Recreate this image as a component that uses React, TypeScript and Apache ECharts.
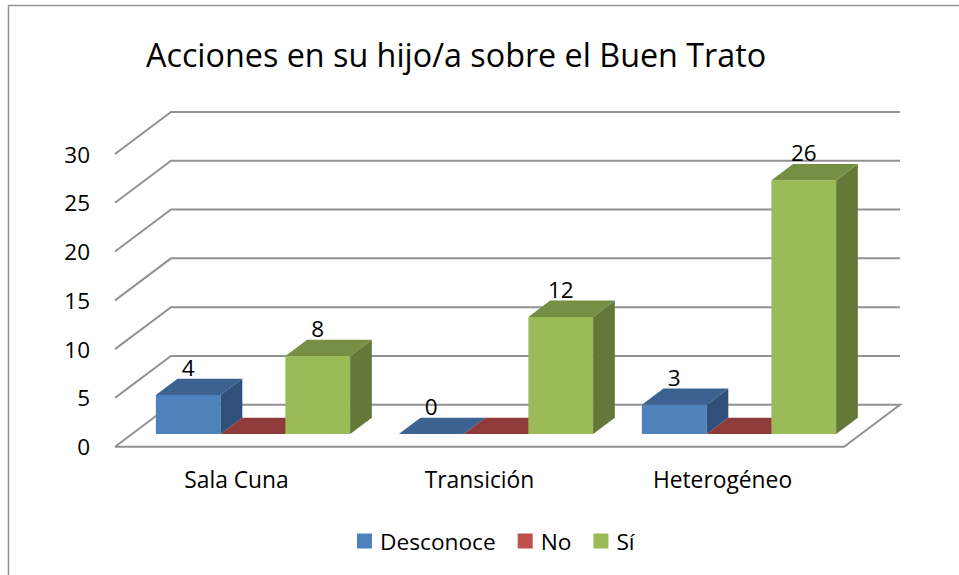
import React, { useEffect, useRef } from "react";
import * as echarts from "echarts";

const categories = ["Sala Cuna", "Transición", "Heterogéneo"];
const desconoce = [4, 0, 3];
const no = [0, 0, 0];
const si = [8, 12, 26];
const yTicks = [0, 5, 10, 15, 20, 25, 30];
const titleText = "Acciones en su hijo/a sobre el Buen Trato";

const FONT = "'Open Sans'";
const DEPTH_X = 56;
const DEPTH_Y = 42;
const BAR_DX = 21.7;
const BAR_DY = 16.3;
const LINE = "#929292";

function makeBarSeries(
  name: string,
  values: number[],
  slot: number,
  colors: { front: string; top: string; side: string },
  showLabel: boolean
) {
  return {
    type: "custom",
    name,
    coordinateSystem: "cartesian2d",
    itemStyle: { color: colors.front },
    encode: { x: 0, y: 1 },
    data: values.map((v, i) => [i, v]),
    renderItem: (_p: any, api: any) => {
      const idx = api.value(0);
      const val = api.value(1);
      const top = api.coord([idx, val]);
      const zero = api.coord([idx, 0]);
      const band = api.size([1, 0])[0];
      const w = band * 0.2665;
      const x0 = top[0] + 16.5 + (slot - 1.5) * w;
      const x1 = x0 + w;
      const yBase = zero[1] - 12.7;
      const yTop = yBase - (zero[1] - top[1]);
      const poly = (pts: number[][], fill: string) => ({
        type: "polygon",
        shape: { points: pts },
        style: { fill },
      });
      const children: any[] = [];
      if (val > 0) {
        children.push(
          poly(
            [
              [x0, yBase],
              [x1, yBase],
              [x1, yTop],
              [x0, yTop],
            ],
            colors.front
          ),
          poly(
            [
              [x1, yBase],
              [x1 + BAR_DX, yBase - BAR_DY],
              [x1 + BAR_DX, yTop - BAR_DY],
              [x1, yTop],
            ],
            colors.side
          )
        );
      }
      children.push(
        poly(
          [
            [x0, yTop],
            [x1, yTop],
            [x1 + BAR_DX, yTop - BAR_DY],
            [x0 + BAR_DX, yTop - BAR_DY],
          ],
          colors.top
        )
      );
      if (showLabel) {
        children.push({
          type: "text",
          style: {
            text: String(val),
            x: (x0 + x1) / 2,
            y: yTop - 27.5,
            align: "center",
            verticalAlign: "middle",
            fill: "#000",
            font: `22.5px ${FONT}`,
          },
        });
      }
      return { type: "group", children };
    },
  };
}

export default function App() {
  const ref = useRef<HTMLDivElement>(null);
  useEffect(() => {
    const chart = echarts.init(ref.current!, undefined, { renderer: "svg" });
    chart.setOption({
      animation: false,
      backgroundColor: "#fff",
      textStyle: { fontFamily: FONT },
      title: {
        text: titleText,
        left: 146,
        top: 38,
        padding: 0,
        textStyle: { fontFamily: FONT, fontSize: 32.3, fontWeight: "normal", color: "#000" },
      },
      legend: {
        data: ["Desconoce", "No", "Sí"],
        left: 357,
        top: 529.5,
        padding: 0,
        icon: "rect",
        itemWidth: 15,
        itemHeight: 15,
        itemGap: 22,
        textStyle: { fontFamily: FONT, fontSize: 22.7, color: "#000", padding: [0, 0, 0, 3] },
      },
      grid: { left: 115, top: 154, width: 729, height: 292.7 },
      xAxis: {
        type: "category",
        data: categories,
        axisLine: { show: false },
        axisTick: { show: false },
        axisLabel: { margin: 21, fontSize: 22.8, color: "#000", fontFamily: FONT },
      },
      yAxis: {
        type: "value",
        min: 0,
        max: 30,
        interval: 5,
        splitLine: { show: false },
        axisLine: { show: false },
        axisTick: { show: false },
        axisLabel: { margin: 25, fontSize: 22.5, color: "#000", fontFamily: FONT },
      },
      graphic: [
        {
          type: "polyline",
          shape: {
            points: [
              [8.5, 575],
              [8.5, 5.5],
              [959, 5.5],
            ],
          },
          style: { stroke: LINE, lineWidth: 1.5, fill: "none" },
          z: -1,
        },
      ],
      series: [
        {
          type: "custom",
          name: "walls",
          coordinateSystem: "cartesian2d",
          encode: { x: 0, y: 1 },
          data: yTicks.map((t) => [0, t]),
          renderItem: (p: any, api: any) => {
            const v = api.value(1);
            const y = api.coord([0, v])[1];
            const left = p.coordSys.x;
            const right = left + p.coordSys.width;
            const style = { stroke: LINE, lineWidth: 2, fill: "none" };
            const pts =
              v === 0
                ? [
                    [left, y],
                    [left + DEPTH_X, y - DEPTH_Y],
                    [right + DEPTH_X, y - DEPTH_Y],
                    [right, y],
                    [left, y],
                  ]
                : [
                    [left, y],
                    [left + DEPTH_X, y - DEPTH_Y],
                    [right + DEPTH_X, y - DEPTH_Y],
                  ];
            return { type: "polyline", shape: { points: pts }, style };
          },
        },
        makeBarSeries("Desconoce", desconoce, 0, { front: "#4F81BD", top: "#3B6290", side: "#2F5079" }, true),
        makeBarSeries("No", no, 1, { front: "#C0504D", top: "#8E3B3A", side: "#7A3230" }, false),
        makeBarSeries("Sí", si, 2, { front: "#9BBB59", top: "#778F45", side: "#64783A" }, true),
      ],
    });
    return () => chart.dispose();
  }, []);
  return <div ref={ref} style={{ position: "absolute", left: 0, top: 0, width: 959, height: 575 }} />;
}
